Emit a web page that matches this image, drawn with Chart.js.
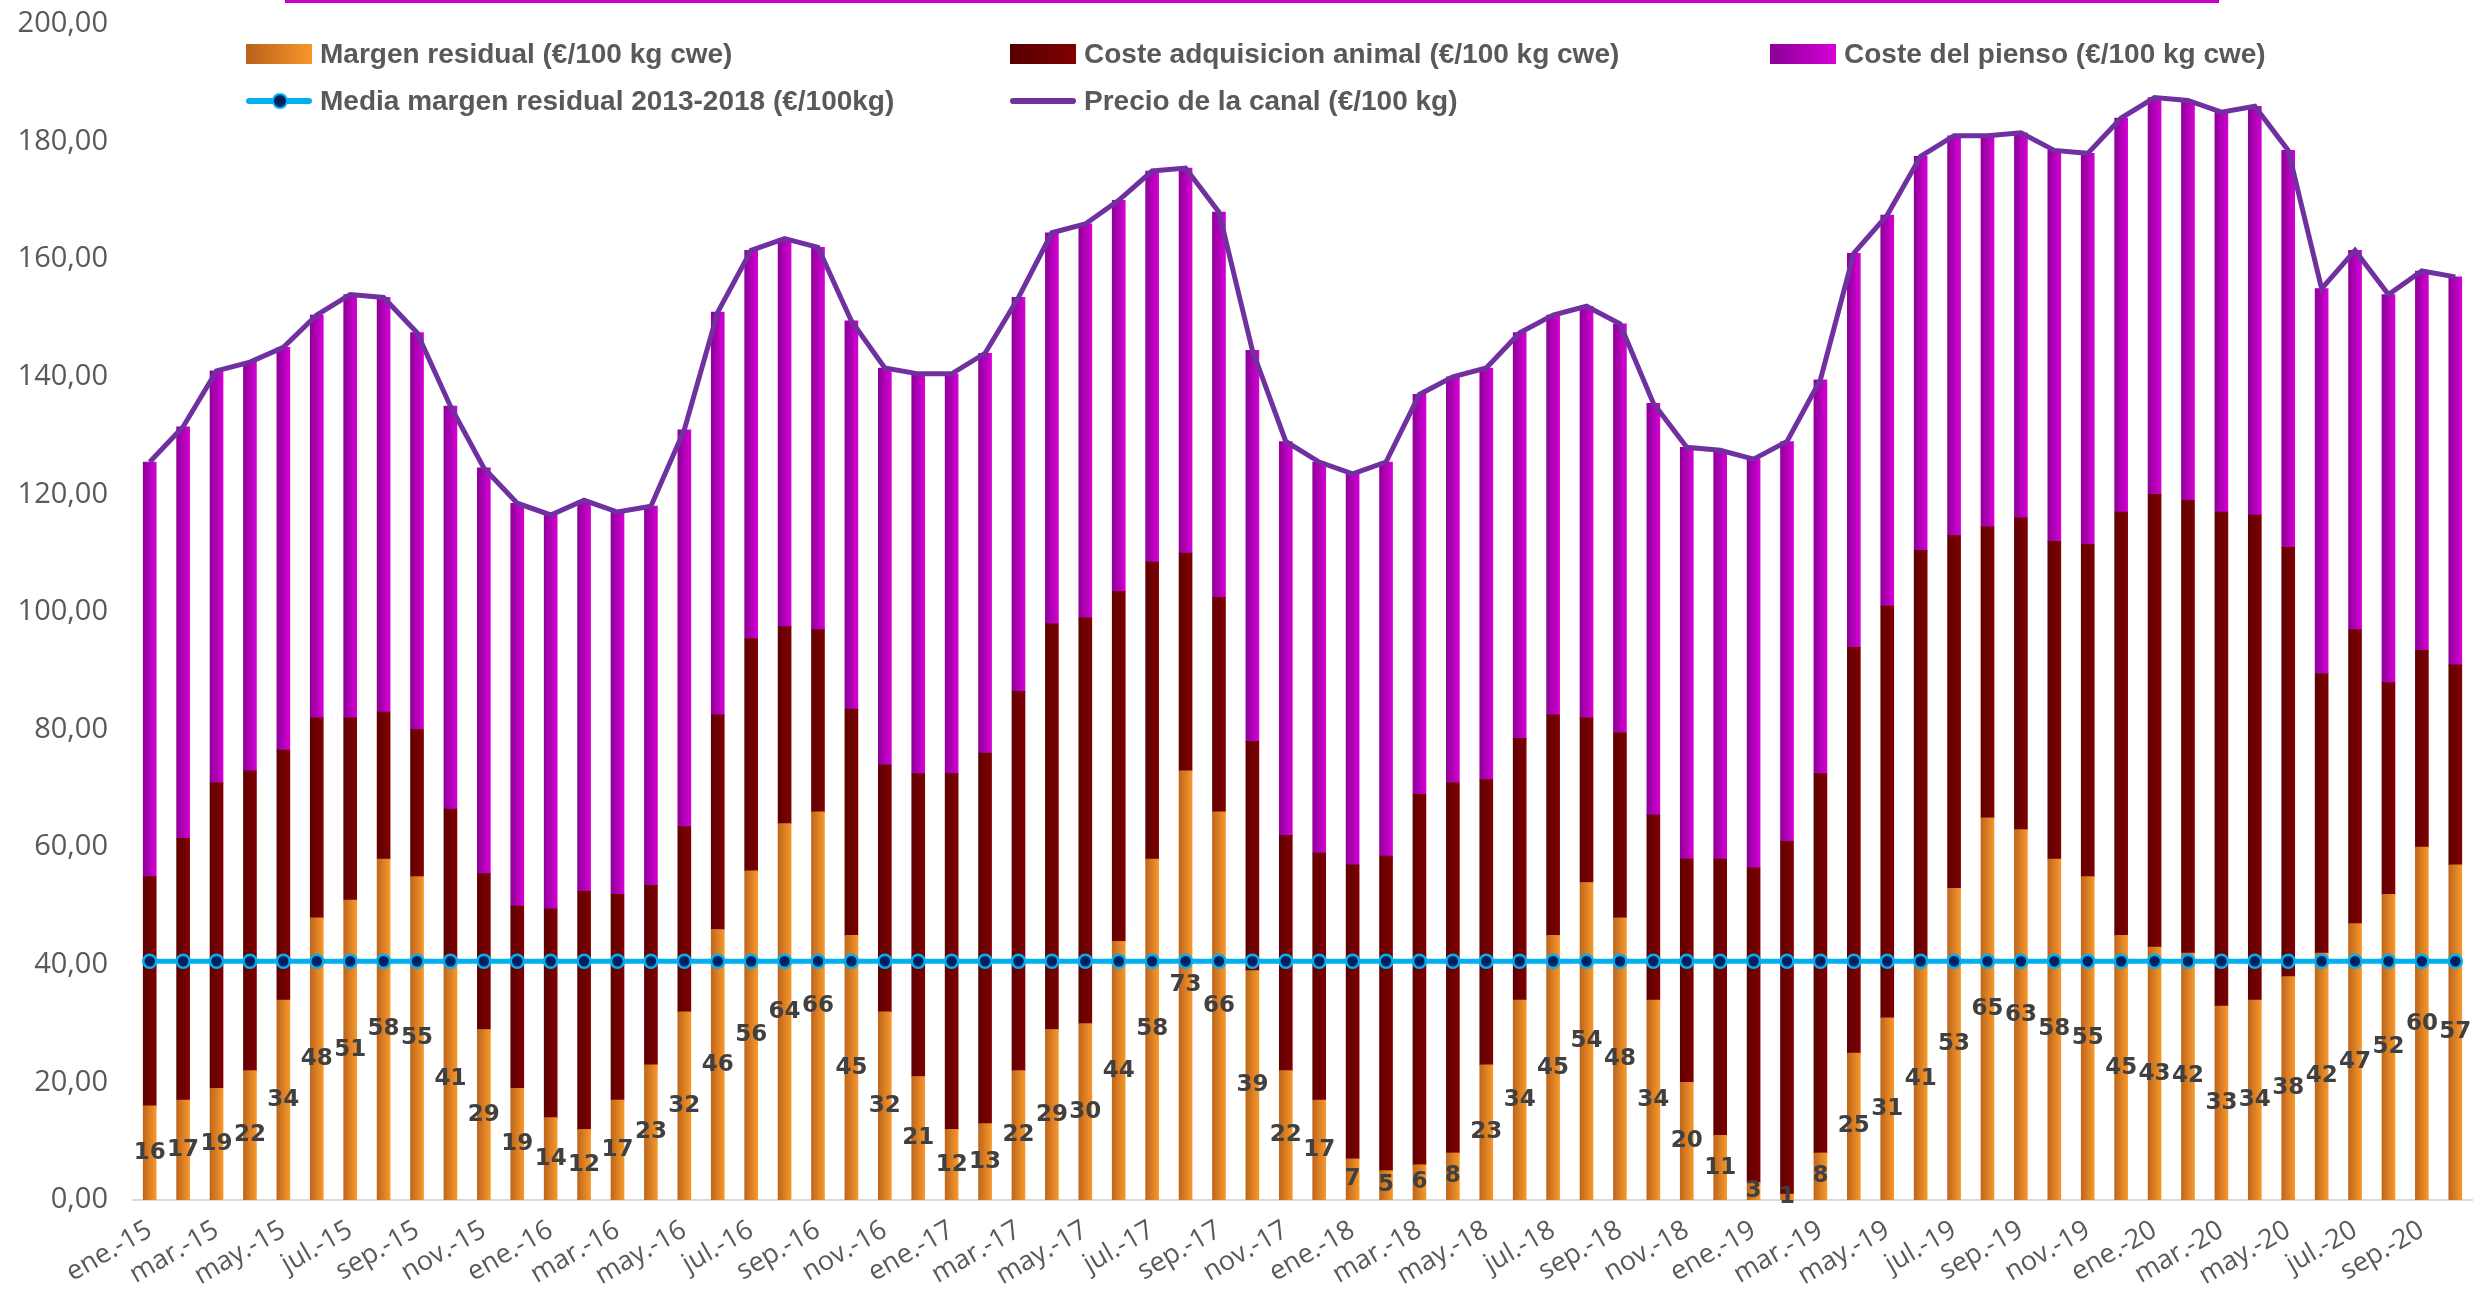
<!DOCTYPE html>
<html>
<head>
<meta charset="utf-8">
<script src="https://cdn.jsdelivr.net/npm/chart.js@4.4.1/dist/chart.umd.min.js"></script>
<style>
  html, body { margin: 0; padding: 0; background: #fff; }
  #wrap { position: relative; width: 2485px; height: 1293px; }
  #topline { position: absolute; left: 285px; top: 0; width: 1934px; height: 3px; background: #cc00cc; }
  .item {
    position: absolute; display: flex; align-items: center; white-space: nowrap;
    transform: translateY(-50%);
    font-family: "Liberation Sans Narrow", "Liberation Sans", sans-serif;
    font-weight: bold; font-size: 28px; color: #595959;
  }
  .box { width: 66px; height: 20px; margin-right: 8px; }
  .ln { position: relative; width: 66px; height: 6px; border-radius: 3px; margin-right: 8px; }
  .dot { position: absolute; left: 26px; top: -5px; width: 12px; height: 12px; border-radius: 50%;
         background: #002060; border: 2px solid #00b0f0; }
</style>
</head>
<body>
<div id="wrap">
  <canvas id="chart" width="2485" height="1293"></canvas>
  <div id="topline"></div>
  <div class="item" style="left:246px; top:54px;">
    <div class="box" style="background:linear-gradient(90deg,#b8621b,#f7962a);"></div>Margen residual (€/100 kg cwe)
  </div>
  <div class="item" style="left:1010px; top:54px;">
    <div class="box" style="background:linear-gradient(90deg,#560000,#800000);"></div>Coste adquisicion animal (€/100 kg cwe)
  </div>
  <div class="item" style="left:1770px; top:54px;">
    <div class="box" style="background:linear-gradient(90deg,#8a0096,#d600d6);"></div>Coste del pienso (€/100 kg cwe)
  </div>
  <div class="item" style="left:246px; top:101px;">
    <div class="ln" style="background:#00b0f0;"><div class="dot"></div></div>Media margen residual 2013-2018 (€/100kg)
  </div>
  <div class="item" style="left:1010px; top:101px;">
    <div class="ln" style="background:#7030a0;"></div>Precio de la canal (€/100 kg)
  </div>
</div>
<script>
// Monthly series, ene-15 .. oct-20
const meses = [
    "ene.-15", "feb.-15", "mar.-15", "abr.-15", "may.-15", "jun.-15", "jul.-15", "ago.-15", "sep.-15", "oct.-15", "nov.-15", "dic.-15",
    "ene.-16", "feb.-16", "mar.-16", "abr.-16", "may.-16", "jun.-16", "jul.-16", "ago.-16", "sep.-16", "oct.-16", "nov.-16", "dic.-16",
    "ene.-17", "feb.-17", "mar.-17", "abr.-17", "may.-17", "jun.-17", "jul.-17", "ago.-17", "sep.-17", "oct.-17", "nov.-17", "dic.-17",
    "ene.-18", "feb.-18", "mar.-18", "abr.-18", "may.-18", "jun.-18", "jul.-18", "ago.-18", "sep.-18", "oct.-18", "nov.-18", "dic.-18",
    "ene.-19", "feb.-19", "mar.-19", "abr.-19", "may.-19", "jun.-19", "jul.-19", "ago.-19", "sep.-19", "oct.-19", "nov.-19", "dic.-19",
    "ene.-20", "feb.-20", "mar.-20", "abr.-20", "may.-20", "jun.-20", "jul.-20", "ago.-20", "sep.-20", "oct.-20",
];

const margen = [
    16, 17, 19, 22, 34, 48, 51, 58, 55, 41, 29, 19,
    14, 12, 17, 23, 32, 46, 56, 64, 66, 45, 32, 21,
    12, 13, 22, 29, 30, 44, 58, 73, 66, 39, 22, 17,
    7, 5, 6, 8, 23, 34, 45, 54, 48, 34, 20, 11,
    3, 1, 8, 25, 31, 41, 53, 65, 63, 58, 55, 45,
    43, 42, 33, 34, 38, 42, 47, 52, 60, 57,
];

const costeAnimal = [
    39, 44.5, 52, 51, 42.5, 34, 31, 25, 25, 25.5, 26.5, 31,
    35.5, 40.5, 35, 30.5, 31.5, 36.5, 39.5, 33.5, 31, 38.5, 42, 51.5,
    60.5, 63, 64.5, 69, 69, 59.5, 50.5, 37, 36.5, 39, 40, 42,
    50, 53.5, 63, 63, 48.5, 44.5, 37.5, 28, 31.5, 31.5, 38, 47,
    53.5, 60, 64.5, 69, 70, 69.5, 60, 49.5, 53, 54, 56.5, 72,
    77, 77, 84, 82.5, 73, 47.5, 50, 36, 33.5, 34,
];

const costePienso = [
    70.5, 70, 70, 69.5, 68.5, 68.5, 72, 70.5, 67.5, 68.5, 69, 68.5,
    67, 66.5, 65, 64.5, 67.5, 68.5, 66, 66, 65, 66, 67.5, 68,
    68, 68, 67, 66.5, 67, 66.5, 66.5, 65.5, 65.5, 66.5, 67, 66.5,
    66.5, 67, 68, 69, 70, 69, 68, 70, 69.5, 70, 70, 69.5,
    69.5, 68, 67, 67, 66.5, 67, 68, 66.5, 65.5, 66.5, 66.5, 67,
    67.5, 68, 68, 69.5, 67.5, 65.5, 64.5, 66, 64.5, 66,
];

const precioCanal = [
    125.5, 131.5, 141, 142.5, 145, 150.5, 154, 153.5, 147.5, 135, 124.5, 118.5,
    116.5, 119, 117, 118, 131, 151, 161.5, 163.5, 162, 149.5, 141.5, 140.5,
    140.5, 144, 153.5, 164.5, 166, 170, 175, 175.5, 168, 144.5, 129, 125.5,
    123.5, 125.5, 137, 140, 141.5, 147.5, 150.5, 152, 149, 135.5, 128, 127.5,
    126, 129, 139.5, 161, 167.5, 177.5, 181, 181, 181.5, 178.5, 178, 184,
    187.5, 187, 185, 186, 178.5, 155, 161.5, 154, 158, 157,
];

const mediaMargen = 40.6;

const yTicks = [0, 20, 40, 60, 80, 100, 120, 140, 160, 180, 200];

// horizontal gradient across each bar
function barGradient(c0, c1) {
    return (context) => {
        const chart = context.chart;
        if (!chart.chartArea || context.type !== "data") return c1;
        const x = chart.scales.x.getPixelForValue(context.dataIndex);
        const g = chart.ctx.createLinearGradient(x - 7, 0, x + 7, 0);
        g.addColorStop(0, c0);
        g.addColorStop(1, c1);
        return g;
    };
}

// margin values written in the middle of the orange segment
const margenLabels = {
    id: "margenLabels",
    afterDatasetsDraw(chart) {
        const meta = chart.getDatasetMeta(2);
        const ctx = chart.ctx;
        ctx.save();
        ctx.font = 'bold 23px "DejaVu Sans"';
        ctx.fillStyle = "#404040";
        ctx.textAlign = "center";
        ctx.textBaseline = "middle";
        meta.data.forEach((bar, i) => {
            ctx.fillText(String(margen[i]), bar.x, (bar.y + bar.base) / 2);
        });
        ctx.restore();
    },
};

new Chart(document.getElementById("chart").getContext("2d"), {
    type: "bar",
    data: {
        labels: meses,
        datasets: [
            {
                type: "line",
                label: "Media margen residual 2013-2018 (€/100kg)",
                data: meses.map(() => mediaMargen),
                borderColor: "#00b0f0",
                borderWidth: 5,
                pointRadius: 6.5,
                pointBackgroundColor: "#002060",
                pointBorderColor: "#00b0f0",
                pointBorderWidth: 2.5,
                stack: "media",
                order: 0,
            },
            {
                type: "line",
                label: "Precio de la canal (€/100 kg)",
                data: precioCanal,
                borderColor: "#7030a0",
                borderWidth: 5,
                pointRadius: 0,
                tension: 0,
                stack: "precio",
                order: 1,
            },
            {
                label: "Margen residual (€/100 kg cwe)",
                data: margen,
                backgroundColor: barGradient("#bd641b", "#f89a2c"),
                barThickness: 13,
                stack: "s",
                order: 2,
            },
            {
                label: "Coste adquisicion animal (€/100 kg cwe)",
                data: costeAnimal,
                backgroundColor: barGradient("#5e0000", "#800000"),
                barThickness: 13,
                stack: "s",
                order: 3,
            },
            {
                label: "Coste del pienso (€/100 kg cwe)",
                data: costePienso,
                backgroundColor: barGradient("#8c0096", "#d800d8"),
                barThickness: 13,
                stack: "s",
                order: 4,
            },
        ],
    },
    options: {
        responsive: false,
        animation: false,
        layout: {
            padding: { left: 0, top: 24, right: 13, bottom: 0 },
        },
        plugins: {
            legend: { display: false },
            tooltip: { enabled: false },
        },
        scales: {
            x: {
                stacked: true,
                grid: { display: false, drawTicks: false },
                border: { display: true, color: "#d9d9d9", width: 2 },
                ticks: {
                    autoSkip: false,
                    minRotation: 30,
                    maxRotation: 30,
                    padding: 14,
                    color: "#595959",
                    font: { family: "Open Sans", size: 27 },
                    callback: (value, index) => (index % 2 === 0 ? meses[index] : ""),
                },
                afterFit: (scale) => {
                    scale.height = 93;
                    scale.paddingLeft = 0;
                    scale.paddingRight = 0;
                },
            },
            y: {
                stacked: true,
                min: 0,
                max: 200,
                grid: { display: false, drawTicks: false },
                border: { display: false },
                afterBuildTicks: (scale) => {
                    scale.ticks = yTicks.map((v) => ({ value: v }));
                },
                ticks: {
                    padding: 25,
                    color: "#595959",
                    font: { family: "Open Sans", size: 29 },
                    callback: (value) => value.toFixed(2).replace(".", ","),
                },
                afterFit: (scale) => {
                    scale.width = 133;
                    scale.paddingTop = 0;
                    scale.paddingBottom = 0;
                },
            },
        },
    },
    plugins: [margenLabels],
});
</script>
</body>
</html>
